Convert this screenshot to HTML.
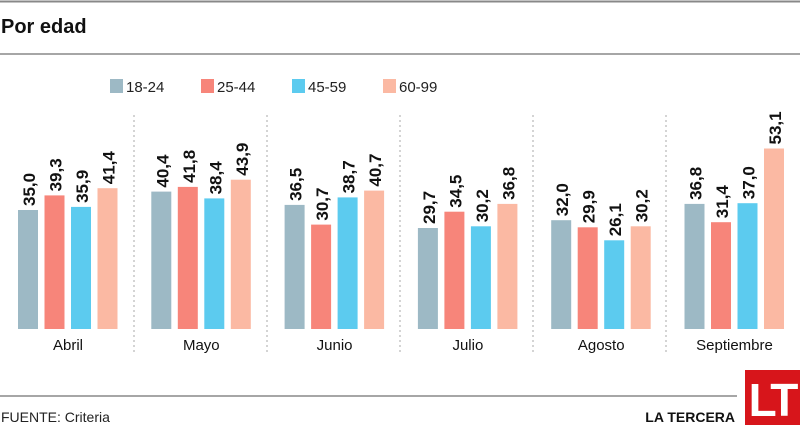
<!DOCTYPE html>
<html><head><meta charset="utf-8"><style>body{margin:0;background:#fff}svg{display:block}</style></head><body>
<svg width="800" height="425" xmlns="http://www.w3.org/2000/svg" font-family="Liberation Sans, sans-serif">
<rect width="800" height="425" fill="#fff"/>
<line x1="0" y1="1.5" x2="800" y2="1.5" stroke="#888" stroke-width="2"/>
<text x="1" y="33" font-size="20" font-weight="bold" fill="#111">Por edad</text>
<line x1="0" y1="54" x2="800" y2="54" stroke="#888" stroke-width="1.5"/>
<g font-size="15" fill="#222">
<rect x="110" y="79" width="13" height="14" fill="#9db9c5"/><text x="126" y="92">18-24</text>
<rect x="201" y="79" width="13" height="14" fill="#f7857a"/><text x="217" y="92">25-44</text>
<rect x="292" y="79" width="13" height="14" fill="#5ccbef"/><text x="308" y="92">45-59</text>
<rect x="383" y="79" width="13" height="14" fill="#fbb9a3"/><text x="399" y="92">60-99</text>
</g>
<g stroke="#aaa" stroke-dasharray="2,3" stroke-width="1">
<line x1="134" y1="115" x2="134" y2="352"/><line x1="267" y1="115" x2="267" y2="352"/><line x1="400" y1="115" x2="400" y2="352"/><line x1="533" y1="115" x2="533" y2="352"/><line x1="666" y1="115" x2="666" y2="352"/>
</g>
<g>
<rect x="18" y="210" width="20" height="119" fill="#9db9c5"/>
<rect x="44.5" y="195.4" width="20" height="133.6" fill="#f7857a"/>
<rect x="71" y="206.9" width="20" height="122.1" fill="#5ccbef"/>
<rect x="97.5" y="188.2" width="20" height="140.8" fill="#fbb9a3"/>
<rect x="151.3" y="191.6" width="20" height="137.4" fill="#9db9c5"/>
<rect x="177.8" y="186.9" width="20" height="142.1" fill="#f7857a"/>
<rect x="204.3" y="198.4" width="20" height="130.6" fill="#5ccbef"/>
<rect x="230.8" y="179.7" width="20" height="149.3" fill="#fbb9a3"/>
<rect x="284.6" y="204.9" width="20" height="124.1" fill="#9db9c5"/>
<rect x="311.1" y="224.6" width="20" height="104.4" fill="#f7857a"/>
<rect x="337.6" y="197.4" width="20" height="131.6" fill="#5ccbef"/>
<rect x="364.1" y="190.6" width="20" height="138.4" fill="#fbb9a3"/>
<rect x="417.9" y="228" width="20" height="101" fill="#9db9c5"/>
<rect x="444.4" y="211.7" width="20" height="117.3" fill="#f7857a"/>
<rect x="470.9" y="226.3" width="20" height="102.7" fill="#5ccbef"/>
<rect x="497.4" y="203.9" width="20" height="125.1" fill="#fbb9a3"/>
<rect x="551.2" y="220.2" width="20" height="108.8" fill="#9db9c5"/>
<rect x="577.7" y="227.3" width="20" height="101.7" fill="#f7857a"/>
<rect x="604.2" y="240.3" width="20" height="88.7" fill="#5ccbef"/>
<rect x="630.7" y="226.3" width="20" height="102.7" fill="#fbb9a3"/>
<rect x="684.5" y="203.9" width="20" height="125.1" fill="#9db9c5"/>
<rect x="711" y="222.2" width="20" height="106.8" fill="#f7857a"/>
<rect x="737.5" y="203.2" width="20" height="125.8" fill="#5ccbef"/>
<rect x="764" y="148.5" width="20" height="180.5" fill="#fbb9a3"/>
</g>
<g font-size="17" font-weight="bold" fill="#111">
<text transform="translate(35,206) rotate(-90)">35,0</text>
<text transform="translate(61.5,191.4) rotate(-90)">39,3</text>
<text transform="translate(88,202.9) rotate(-90)">35,9</text>
<text transform="translate(114.5,184.2) rotate(-90)">41,4</text>
<text transform="translate(168.3,187.6) rotate(-90)">40,4</text>
<text transform="translate(194.8,182.9) rotate(-90)">41,8</text>
<text transform="translate(221.3,194.4) rotate(-90)">38,4</text>
<text transform="translate(247.8,175.7) rotate(-90)">43,9</text>
<text transform="translate(301.6,200.9) rotate(-90)">36,5</text>
<text transform="translate(328.1,220.6) rotate(-90)">30,7</text>
<text transform="translate(354.6,193.4) rotate(-90)">38,7</text>
<text transform="translate(381.1,186.6) rotate(-90)">40,7</text>
<text transform="translate(434.9,224) rotate(-90)">29,7</text>
<text transform="translate(461.4,207.7) rotate(-90)">34,5</text>
<text transform="translate(487.9,222.3) rotate(-90)">30,2</text>
<text transform="translate(514.4,199.9) rotate(-90)">36,8</text>
<text transform="translate(568.2,216.2) rotate(-90)">32,0</text>
<text transform="translate(594.7,223.3) rotate(-90)">29,9</text>
<text transform="translate(621.2,236.3) rotate(-90)">26,1</text>
<text transform="translate(647.7,222.3) rotate(-90)">30,2</text>
<text transform="translate(701.5,199.9) rotate(-90)">36,8</text>
<text transform="translate(728,218.2) rotate(-90)">31,4</text>
<text transform="translate(754.5,199.2) rotate(-90)">37,0</text>
<text transform="translate(781,144.5) rotate(-90)">53,1</text>
</g>
<g font-size="15" fill="#111" text-anchor="middle">
<text x="68" y="350">Abril</text>
<text x="201.3" y="350">Mayo</text>
<text x="334.6" y="350">Junio</text>
<text x="467.9" y="350">Julio</text>
<text x="601.2" y="350">Agosto</text>
<text x="734.5" y="350">Septiembre</text>
</g>
<line x1="0" y1="396" x2="737" y2="396" stroke="#888" stroke-width="1.5"/>
<text x="1" y="422" font-size="14" fill="#222">FUENTE: Criteria</text>
<text x="735" y="422" font-size="14" font-weight="bold" fill="#111" text-anchor="end">LA TERCERA</text>
<rect x="745" y="370" width="55" height="55" fill="#d7151b"/>
<text x="772" y="416" font-size="46" font-weight="bold" fill="#fff" text-anchor="middle" letter-spacing="-3">LT</text>
</svg>
</body></html>
